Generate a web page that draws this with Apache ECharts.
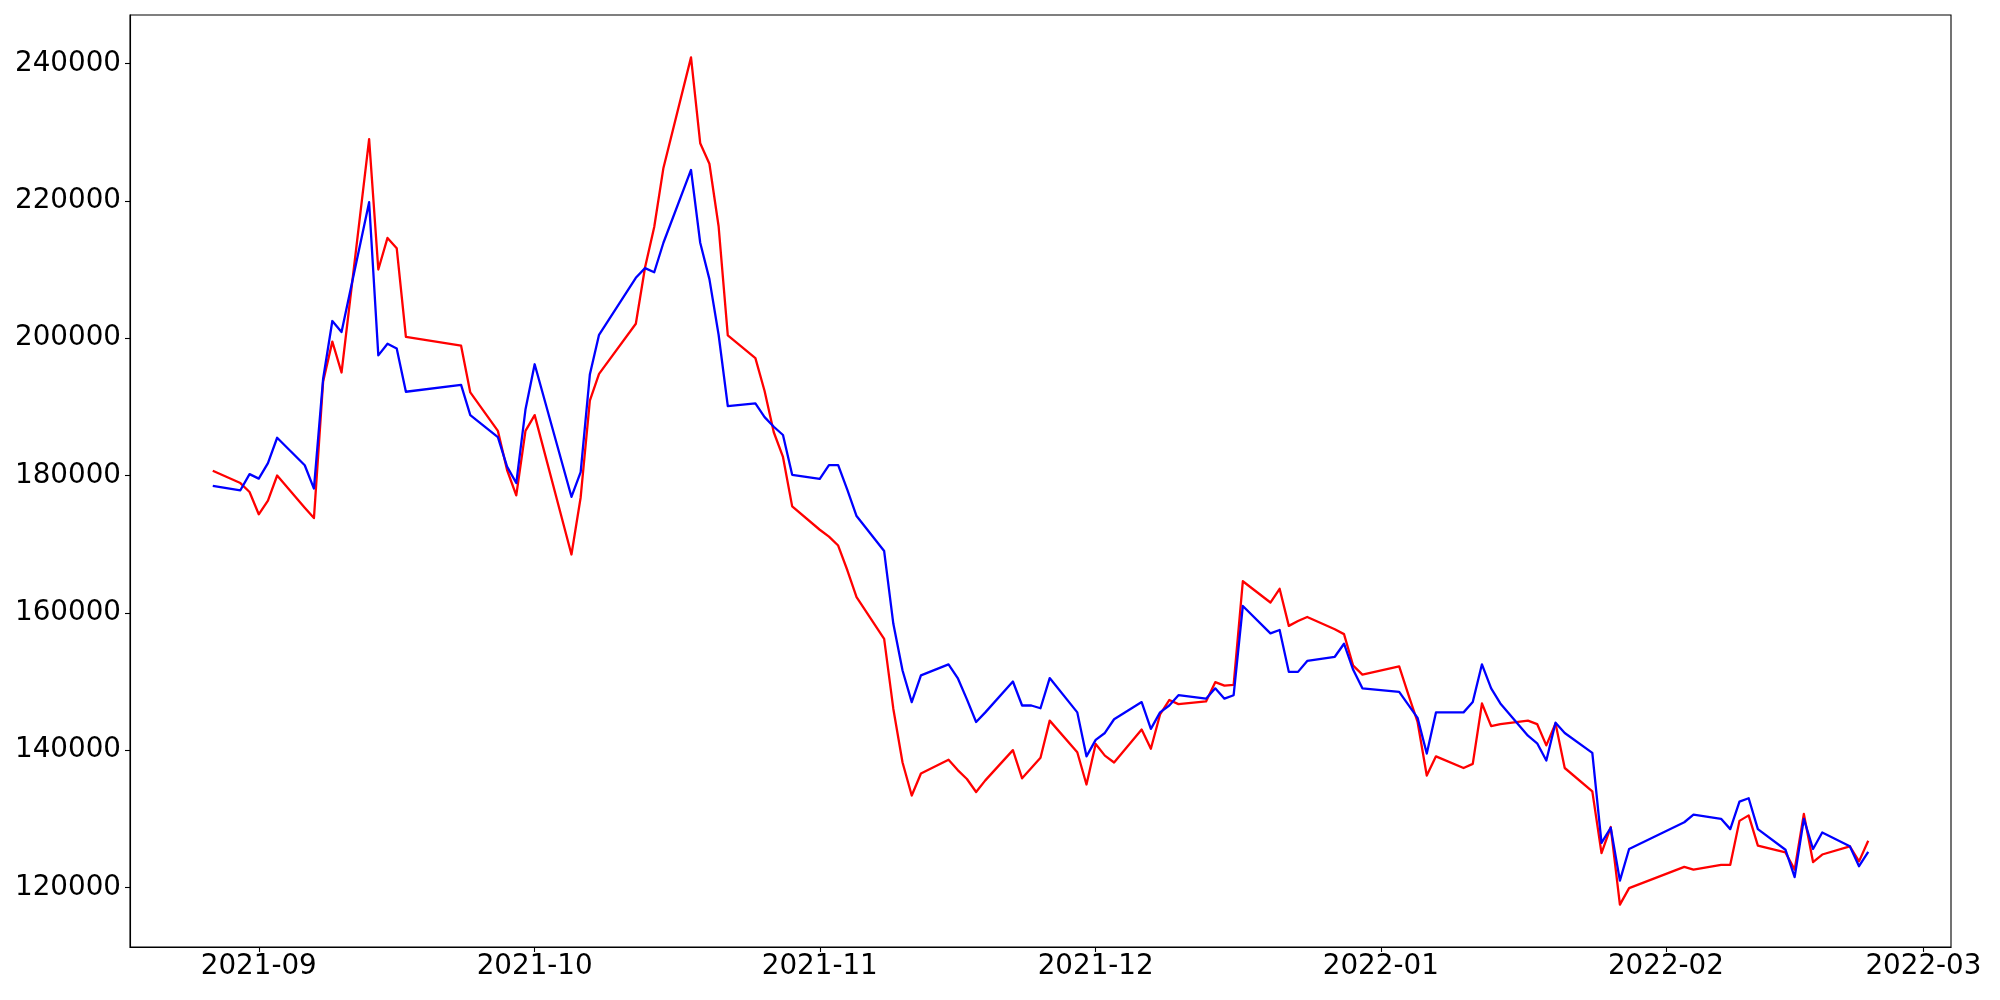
<!DOCTYPE html>
<html>
<head>
<meta charset="utf-8">
<script src="https://cdn.jsdelivr.net/npm/echarts@6/dist/echarts.min.js"></script>
<style>
html,body{margin:0;padding:0;background:#fff;}
#chart{width:2000px;height:1000px;}
</style>
</head>
<body>
<div id="chart"></div>
<script>
// Trading dates
const dates = [
'2021-08-27','2021-08-30','2021-08-31',
'2021-09-01','2021-09-02','2021-09-03','2021-09-06','2021-09-07','2021-09-08','2021-09-09','2021-09-10',
'2021-09-13','2021-09-14','2021-09-15','2021-09-16','2021-09-17','2021-09-23','2021-09-24',
'2021-09-27','2021-09-28','2021-09-29','2021-09-30',
'2021-10-01','2021-10-05','2021-10-06','2021-10-07','2021-10-08','2021-10-12','2021-10-13','2021-10-14','2021-10-15',
'2021-10-18','2021-10-19','2021-10-20','2021-10-21','2021-10-22','2021-10-25','2021-10-26','2021-10-27','2021-10-28','2021-10-29',
'2021-11-01','2021-11-02','2021-11-03','2021-11-04','2021-11-05','2021-11-08','2021-11-09','2021-11-10','2021-11-11','2021-11-12',
'2021-11-15','2021-11-16','2021-11-17','2021-11-18','2021-11-19','2021-11-22','2021-11-23','2021-11-24','2021-11-25','2021-11-26',
'2021-11-29','2021-11-30',
'2021-12-01','2021-12-02','2021-12-03','2021-12-06','2021-12-07','2021-12-08','2021-12-09','2021-12-10',
'2021-12-13','2021-12-14','2021-12-15','2021-12-16','2021-12-17','2021-12-20','2021-12-21','2021-12-22','2021-12-23','2021-12-24',
'2021-12-27','2021-12-28','2021-12-29','2021-12-30',
'2022-01-03','2022-01-04','2022-01-05','2022-01-06','2022-01-07','2022-01-10','2022-01-11','2022-01-12','2022-01-13','2022-01-14',
'2022-01-17','2022-01-18','2022-01-19','2022-01-20','2022-01-21','2022-01-24','2022-01-25','2022-01-26','2022-01-27','2022-01-28',
'2022-02-03','2022-02-04','2022-02-07','2022-02-08','2022-02-09','2022-02-10','2022-02-11',
'2022-02-14','2022-02-15','2022-02-16','2022-02-17','2022-02-18','2022-02-21','2022-02-22','2022-02-23'
];

// Red series
const redValues = [
180700,178900,177600,
174350,176350,180000,175300,173800,193700,199500,195000,
229000,210000,214600,213100,200200,198900,192100,
186500,180800,177100,186500,
188800,168500,176800,190900,194800,202100,210300,216200,224800,
240900,228400,225400,216300,200400,197100,192300,186300,182700,175500,
172100,171100,169800,166200,162300,156200,146000,138200,133400,136600,
138600,137100,135800,133900,135600,140000,135900,137400,138900,144300,
139700,135000,
140900,139200,138200,143000,140200,145200,147300,146700,
147100,149900,149400,149500,164600,161500,163500,158100,158800,159400,
157600,156900,152300,151000,
152200,148100,144100,136300,139100,137400,138000,146800,143500,143800,
144300,143800,140700,143900,137400,134000,125000,128800,117500,119900,
123000,122600,123300,123300,129700,130500,126100,
125100,122600,130700,123700,124800,126000,123800,126800
];

// Blue series
const blueValues = [
178500,177850,180200,
179550,181800,185500,181500,178100,194100,202500,200900,
219800,197500,199200,198500,192200,193200,188800,
185600,181300,178900,189600,
196200,176900,180500,194700,200500,208800,210200,209600,213900,
224500,213900,208600,200500,190100,190500,188500,187100,185900,180100,
179500,181500,181500,177900,174100,169000,158400,151600,147000,150900,
152500,150500,147400,144100,145500,150000,146500,146500,146100,150500,
145500,139100,
141500,142500,144500,147000,143100,145500,146500,148000,
147500,149000,147500,148000,161000,157000,157500,151400,151400,153000,
153600,155500,151700,149000,
148500,146600,144700,139500,145500,145500,147000,152500,149000,146800,
142100,141000,138500,144000,142500,139600,126500,128700,121000,125600,
129500,130600,130000,128500,132500,133000,128500,
125500,121500,130000,125600,128000,126000,123100,125200
];

// Tick labels
const xTickDates = ['2021-09-01','2021-10-01','2021-11-01','2021-12-01','2022-01-01','2022-02-01','2022-03-01'];
const yTickValues = [120000,140000,160000,180000,200000,220000,240000];

function ts(s){ const p = s.split('-').map(Number); return new Date(p[0], p[1]-1, p[2]).getTime(); }
const tDates = dates.map(ts);
const xMin = tDates[0] - 0.05*(tDates[tDates.length-1]-tDates[0]);
const xMax = tDates[tDates.length-1] + 0.05*(tDates[tDates.length-1]-tDates[0]);
const allV = redValues.concat(blueValues);
const vMin = Math.min.apply(null, allV), vMax = Math.max.apply(null, allV);
const yMin = vMin - 0.05*(vMax - vMin), yMax = vMax + 0.05*(vMax - vMin);

const font = {color:'#000', fontFamily:'DejaVu Sans', fontSize:27.78};
function pad(n){ return (n<10?'0':'')+n; }

const chart = echarts.init(document.getElementById('chart'), null, {renderer:'canvas'});
chart.setOption({
  animation:false,
  backgroundColor:'#fff',
  grid:{left:130, right:49, top:15, bottom:53, show:true, borderColor:'#000', borderWidth:1.1, outerBoundsMode:'none', containLabel:false},
  xAxis:{
    type:'value', min:xMin, max:xMax,
    axisLine:{show:true, lineStyle:{color:'#000', width:1.1}},
    axisTick:{show:true, length:5, lineStyle:{color:'#000', width:1.1}, customValues:xTickDates.map(ts)},
    axisLabel:Object.assign({margin:6, customValues:xTickDates.map(ts),
      formatter:function(v){ const d=new Date(v); return d.getFullYear()+'-'+pad(d.getMonth()+1); }}, font),
    splitLine:{show:false}
  },
  yAxis:{
    type:'value', min:yMin, max:yMax, scale:true,
    axisLine:{show:true, lineStyle:{color:'#000', width:1.1}},
    axisTick:{show:true, length:5, lineStyle:{color:'#000', width:1.1}, customValues:yTickValues},
    axisLabel:Object.assign({margin:9, customValues:yTickValues, formatter:function(v){return String(v);}}, font),
    splitLine:{show:false}
  },
  series:[
    {name:'red', type:'line', data:tDates.map((t,i)=>[t, redValues[i]]), showSymbol:false, symbol:'none',
     lineStyle:{color:'#ff0000', width:2.3, join:'round'}, itemStyle:{color:'#ff0000'}, z:2},
    {name:'blue', type:'line', data:tDates.map((t,i)=>[t, blueValues[i]]), showSymbol:false, symbol:'none',
     lineStyle:{color:'#0000ff', width:2.3, join:'round'}, itemStyle:{color:'#0000ff'}, z:3}
  ]
});
</script>
</body>
</html>
